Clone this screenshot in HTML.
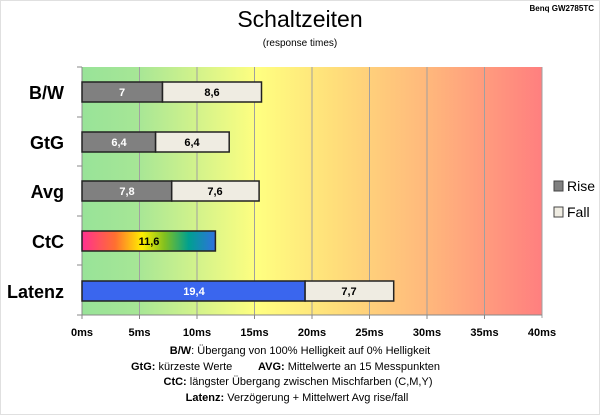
<!DOCTYPE html>
<html><head><meta charset="utf-8"><style>
body{margin:0;background:#fff;}
svg{display:block;font-family:"Liberation Sans",sans-serif;}
</style></head><body>
<svg width="600" height="415" viewBox="0 0 600 415" xmlns="http://www.w3.org/2000/svg">
<defs>
<linearGradient id="bg" x1="0" x2="1" y1="0" y2="0">
<stop offset="0" stop-color="#98e398"/>
<stop offset="0.12" stop-color="#a6e696"/>
<stop offset="0.38" stop-color="#ffff80"/>
<stop offset="0.55" stop-color="#ffde7a"/>
<stop offset="0.75" stop-color="#ffb87c"/>
<stop offset="1" stop-color="#ff7f7f"/>
</linearGradient>
<linearGradient id="ctc" x1="0" x2="1" y1="0" y2="0">
<stop offset="0" stop-color="#ff3090"/>
<stop offset="0.25" stop-color="#ff7030"/>
<stop offset="0.45" stop-color="#ffee00"/>
<stop offset="0.62" stop-color="#80c020"/>
<stop offset="0.8" stop-color="#00a090"/>
<stop offset="1" stop-color="#3070e0"/>
</linearGradient>
</defs>
<rect x="0.5" y="0.5" width="599" height="414" fill="#fff" stroke="#e0e0e0"/>
<text x="300" y="27" font-size="23" text-anchor="middle" fill="#000">Schaltzeiten</text>
<text x="300" y="46" font-size="10" text-anchor="middle" fill="#000">(response times)</text>
<text x="594" y="11" font-size="8" font-weight="bold" text-anchor="end" fill="#000">Benq GW2785TC</text>
<rect x="82" y="67" width="460" height="248" fill="url(#bg)"/>
<g stroke="#a0a0a0" stroke-width="1">
<line x1="139.5" y1="67" x2="139.5" y2="315"/>
<line x1="197" y1="67" x2="197" y2="315"/>
<line x1="254.5" y1="67" x2="254.5" y2="315"/>
<line x1="312" y1="67" x2="312" y2="315"/>
<line x1="369.5" y1="67" x2="369.5" y2="315"/>
<line x1="427" y1="67" x2="427" y2="315"/>
<line x1="484.5" y1="67" x2="484.5" y2="315"/>
<line x1="542" y1="67" x2="542" y2="318"/>
</g>
<g stroke="#888" stroke-width="1">
<line x1="82" y1="67" x2="82" y2="315"/>
<line x1="82" y1="315" x2="542" y2="315"/>
<line x1="77" y1="67" x2="82" y2="67"/>
<line x1="77" y1="117" x2="82" y2="117"/>
<line x1="77" y1="166" x2="82" y2="166"/>
<line x1="77" y1="216" x2="82" y2="216"/>
<line x1="77" y1="265" x2="82" y2="265"/>
<line x1="77" y1="315" x2="82" y2="315"/>
<line x1="82" y1="315" x2="82" y2="319"/><line x1="139.5" y1="315" x2="139.5" y2="319"/><line x1="197" y1="315" x2="197" y2="319"/><line x1="254.5" y1="315" x2="254.5" y2="319"/><line x1="312" y1="315" x2="312" y2="319"/><line x1="369.5" y1="315" x2="369.5" y2="319"/><line x1="427" y1="315" x2="427" y2="319"/><line x1="484.5" y1="315" x2="484.5" y2="319"/>
</g>
<g stroke="#222" stroke-width="1.5">
<rect x="82" y="82" width="80.5" height="20" fill="#808080"/>
<rect x="162.5" y="82" width="99" height="20" fill="#efece2"/>
<rect x="82" y="132" width="73.6" height="20" fill="#808080"/>
<rect x="155.6" y="132" width="73.6" height="20" fill="#efece2"/>
<rect x="82" y="181" width="89.7" height="20" fill="#808080"/>
<rect x="171.7" y="181" width="87.4" height="20" fill="#efece2"/>
<rect x="82" y="231" width="133.4" height="20" fill="url(#ctc)"/>
<rect x="82" y="281" width="223.1" height="20" fill="#3a66ee"/>
<rect x="305.1" y="281" width="88.6" height="20" fill="#efece2"/>
</g>
<g font-size="11" font-weight="bold" text-anchor="middle">
<text x="122" y="96" fill="#fff">7</text>
<text x="212" y="96" fill="#000">8,6</text>
<text x="119" y="146" fill="#fff">6,4</text>
<text x="192" y="146" fill="#000">6,4</text>
<text x="127" y="195" fill="#fff">7,8</text>
<text x="215" y="195" fill="#000">7,6</text>
<text x="149" y="245" fill="#000">11,6</text>
<text x="194" y="295" fill="#fff">19,4</text>
<text x="349" y="295" fill="#000">7,7</text>
</g>
<g font-size="18" font-weight="bold" text-anchor="end" fill="#000">
<text x="64" y="99">B/W</text>
<text x="64" y="149">GtG</text>
<text x="64" y="198">Avg</text>
<text x="64" y="248">CtC</text>
<text x="64" y="298">Latenz</text>
</g>
<g font-size="11" font-weight="bold" text-anchor="middle" fill="#000">
<text x="82" y="336">0ms</text><text x="139.5" y="336">5ms</text><text x="197" y="336">10ms</text><text x="254.5" y="336">15ms</text><text x="312" y="336">20ms</text><text x="369.5" y="336">25ms</text><text x="427" y="336">30ms</text><text x="484.5" y="336">35ms</text><text x="542" y="336">40ms</text>
</g>
<rect x="554" y="181" width="9" height="10" fill="#808080" stroke="#444"/>
<rect x="554" y="207" width="9" height="10" fill="#efece2" stroke="#444"/>
<text x="567" y="191" font-size="14" fill="#000">Rise</text>
<text x="567" y="217" font-size="14" fill="#000">Fall</text>
<g font-size="11" fill="#000">
<text x="300" y="354" text-anchor="middle"><tspan font-weight="bold">B/W</tspan>:  Übergang von 100% Helligkeit auf 0% Helligkeit</text>
<text x="131" y="370"><tspan font-weight="bold">GtG:</tspan> kürzeste Werte</text>
<text x="258" y="370"><tspan font-weight="bold">AVG:</tspan> Mittelwerte an 15 Messpunkten</text>
<text x="298" y="385" text-anchor="middle"><tspan font-weight="bold">CtC:</tspan> längster Übergang zwischen Mischfarben (C,M,Y)</text>
<text x="297" y="401" text-anchor="middle"><tspan font-weight="bold">Latenz:</tspan> Verzögerung + Mittelwert Avg rise/fall</text>
</g>
</svg>
</body></html>
